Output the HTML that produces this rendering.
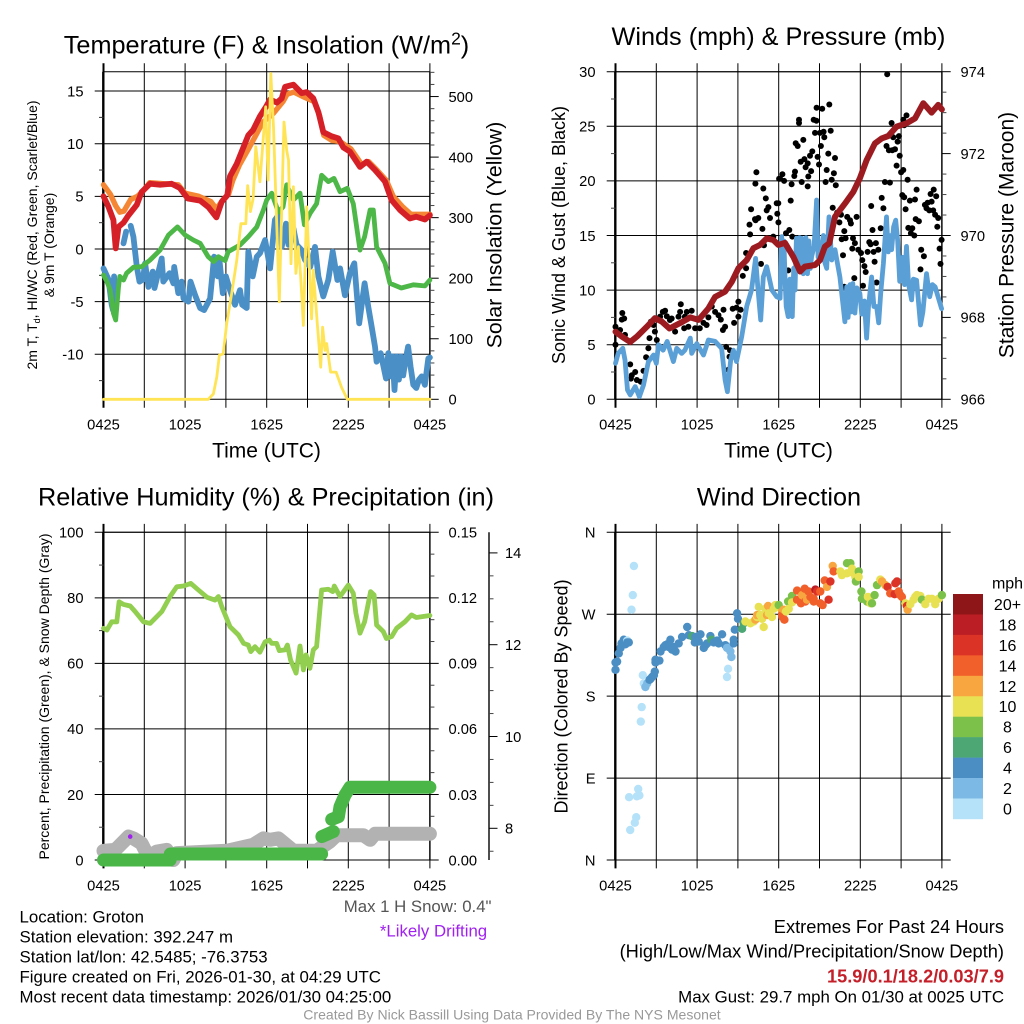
<!DOCTYPE html>
<html><head><meta charset="utf-8"><title>Groton Mesonet Meteogram</title>
<style>
html,body{margin:0;padding:0;background:#fff}
svg{display:block}
text{font-family:"Liberation Sans",Arial,sans-serif;fill:#000}
</style></head>
<body>
<svg id="fig" width="1024" height="1024" viewBox="0 0 1024 1024" xmlns="http://www.w3.org/2000/svg">
<rect width="1024" height="1024" fill="#fff"/>
<g id="p1"></g>
<g id="p2"></g>
<g id="p3"></g>
<g id="p4"></g>
<g id="legend"></g>

<text x="266.5" y="53.5" font-size="25.25" text-anchor="middle">Temperature (F) &amp; Insolation (W/m<tspan dy="-9" font-size="17.5">2</tspan><tspan dy="9">)</tspan></text>
<text x="778.5" y="45" font-size="25.25" text-anchor="middle">Winds (mph) &amp; Pressure (mb)</text>
<text x="266" y="505.5" font-size="25.25" text-anchor="middle">Relative Humidity (%) &amp; Precipitation (in)</text>
<text x="779" y="505.5" font-size="25.25" text-anchor="middle">Wind Direction</text>

<text x="266.5" y="457.5" font-size="21" text-anchor="middle">Time (UTC)</text>
<text x="778.5" y="457.5" font-size="21" text-anchor="middle">Time (UTC)</text>

<text transform="translate(37,235) rotate(-90)" font-size="14" text-anchor="middle">2m T, T<tspan dy="3" font-size="9">d</tspan><tspan dy="-3">, HI/WC (Red, Green, Scarlet/Blue)</tspan></text>
<text transform="translate(54,245) rotate(-90)" font-size="14" text-anchor="middle">&amp; 9m T (Orange)</text>
<text transform="translate(501.5,235) rotate(-90)" font-size="21.2" text-anchor="middle">Solar Insolation (Yellow)</text>
<text transform="translate(565,235) rotate(-90)" font-size="18" text-anchor="middle">Sonic Wind &amp; Gust (Blue, Black)</text>
<text transform="translate(1013.5,235) rotate(-90)" font-size="21" text-anchor="middle">Station Pressure (Maroon)</text>
<text transform="translate(49,696.5) rotate(-90)" font-size="14" text-anchor="middle">Percent, Precipitation (Green), &amp; Snow Depth (Gray)</text>
<text transform="translate(567.5,696.5) rotate(-90)" font-size="18" text-anchor="middle">Direction (Colored By Speed)</text>

<text x="1007.5" y="588.5" font-size="16" text-anchor="middle">mph</text>

<g font-size="16.85">
<text x="19.5" y="922.5">Location: Groton</text>
<text x="19.5" y="942.5">Station elevation: 392.247 m</text>
<text x="19.5" y="962.5">Station lat/lon: 42.5485; -76.3753</text>
<text x="19.5" y="982.5">Figure created on Fri, 2026-01-30, at 04:29 UTC</text>
<text x="19.5" y="1002.5">Most recent data timestamp: 2026/01/30 04:25:00</text>
</g>
<text x="491.5" y="912" font-size="16.8" text-anchor="end" style="fill:#555">Max 1 H Snow: 0.4"</text>
<text x="433.5" y="936.5" font-size="16.8" text-anchor="middle" style="fill:#A020F0">*Likely Drifting</text>
<text x="1004" y="933" font-size="18.25" text-anchor="end">Extremes For Past 24 Hours</text>
<text x="1004" y="957.5" font-size="18.25" text-anchor="end">(High/Low/Max Wind/Precipitation/Snow Depth)</text>
<text x="1004" y="982.5" font-size="18.2" font-weight="bold" text-anchor="end" style="fill:#C4202A">15.9/0.1/18.2/0.03/7.9</text>
<text x="1004" y="1002.5" font-size="16.85" text-anchor="end">Max Gust: 29.7 mph On 01/30 at 0025 UTC</text>
<text x="512" y="1019.5" font-size="14.05" text-anchor="middle" style="fill:#999">Created By Nick Bassill Using Data Provided By The NYS Mesonet</text>
</svg>

<script>
// ---- Shared axis data ----
const timeTickHours = [0,3,6,9,12,15,18,21,24];
const timeTickLabels = ["0425","","1025","","1625","","2225","","0425"];

// ---- Temperature panel (hours since 0425, deg F / W m-2) ----
const tempTicks = [15,10,5,0,-5,-10];
const tempMinorTicks = [12.5,7.5,2.5,-2.5,-7.5,-12.5];
const solarTicks = [0,100,200,300,400,500];
const redHours = [0,.37,.73,.9,1.1,1.47,1.84,2.45,2.8,3.43,4.16,5,5.6,6.2,7.1,7.7,8.3,8.7,9.1,9.3,9.8,10.3,10.65,11,11.5,11.95,12.25,12.75,13.1,13.35,13.96,14.57,14.94,15.43,15.8,16.16,16.78,17.27,17.63,18.12,18.86,19.35,19.96,20.7,21.18,21.8,22.53,23,23.63,24];
const redTemp = [5,4,2.75,.06,2.1,2.5,3.2,4.2,5.4,6.2,6.1,6.2,5.8,4.8,4.6,4,3,4.5,5.1,6.9,8.1,9.7,10.8,11.3,12.6,13.5,14.2,13.9,14.3,15.4,15.6,14.8,14.9,14.3,13,11.1,10.7,10.5,9.65,9.25,7.8,8.3,7.5,6.4,4.65,3.7,2.9,3.07,2.8,3.2];
const orangeHours = [0,.5,.9,1.2,1.5,2,2.5,2.9,3.4,5.5,6,7,7.9,8.3,8.8,9.2,9.5,10,10.7,11.2,11.7,12.5,13.2,13.5,14,14.8,15.5,15.9,16.2,16.8,17.4,18.2,19,19.5,20.1,20.8,21.3,22,22.6,23.2,24];
const orangeTemp = [6.1,5.2,4.1,3.5,3.6,4.7,5,5.5,6.3,6.1,5.3,5,4.5,3.8,4.7,5.2,6.5,8,9.6,10.8,12,12.9,14,14.7,14.9,14.4,14,12.6,10.8,10.3,10.2,9.5,8,8.3,7.5,6.5,5,4,3.3,3.3,3.3];
const greenHours = [0,.25,.5,.73,.9,1.1,1.2,1.47,1.7,2.2,2.8,3.43,4.16,4.78,5.44,6,6.6,7.1,7.7,8.1,8.45,8.94,9.18,10.04,10.65,11.27,11.76,12,12.37,12.86,13.2,13.47,13.96,14.45,14.77,15.2,15.67,16.04,16.53,16.95,17.39,17.93,18.37,18.86,19.2,19.6,19.84,20.08,20.7,21.06,21.9,22.78,23.63,24];
const greenTemp = [-2.47,-3.1,-3.9,-6.1,-6.74,-3.6,-2.6,-2.95,-2.3,-1.74,-1.68,-1.04,-.1,1.33,2.1,1.33,.85,.54,-.73,-1.2,-.73,-1.1,-.25,.38,1.17,2.1,3.7,4.65,5.3,3.5,4,6.1,4.65,5.3,2.3,3.4,4.3,7,6.4,6.7,5.44,5.76,4.3,-.1,1.17,3.7,3.7,.2,-1.36,-3.26,-3.7,-3.4,-3.5,-2.94];
const dewHours = [0,.37,.6,.7,.78,.9,1.0,1.47,1.66,1.8,2,2.2,2.45,2.65,2.9,3.06,3.3,3.62,3.75,4.28,4.4,4.85,5.14,5.2,5.5,5.75,5.88,6.25,6.4,6.74,7.1,7.4,7.84,8.13,8.4,8.52,8.77,9,9.3,9.67,10.04,10.2,10.53,10.65,10.97,11.27,11.51,11.88,12.25,12.6,12.86,13.1,13.42,13.6,13.96,14.2,14.57,14.8,15.2,15.55,15.8,16.16,16.53,16.85,17.2,17.4,17.75,18.12,18.44,18.8,19.2,19.47,19.72,19.96,20.08,20.38,20.77,20.94,21.11,21.26,21.4,21.55,21.72,21.87,22.04,22.21,22.4,22.58,22.78,23,23.2,23.4,23.63,23.88,24];
const dewTemp = [-1.84,-2.9,-5.3,-5.8,-2.6,-4.8,null,.54,1.65,null,2.2,1.17,-1.68,-3.1,-2.9,-1.36,-3.6,-2.15,-3.7,-.9,-3.1,-2.3,-3.26,-1.7,-4.2,-3.1,-4.7,-5,-3.1,-4.4,-5.6,-5.8,-4.7,-.73,-2.6,-1,-4.2,-2.6,-3.9,-5.3,-3.9,-5.3,-5.6,-.25,-2.6,-.73,-.4,.85,-1.84,2.75,3.2,.2,2.4,.4,1.96,.4,-.1,-1,-1.7,.2,-2.6,-4.5,-2.94,-.25,-2.94,-1.84,-4.4,-2.3,-1.36,-7.06,-3.26,-5.5,-7.4,-9.27,-10.7,-9.9,-12.3,-9.9,-12.1,-10.2,-13.4,-10.2,-12.4,-10.2,-12,-10.5,-9.27,-11.2,-12.9,-13.2,-12.4,-12.1,-12.9,-10.4,-10.3];
const solarHours = [0,7.7,8.08,8.33,8.52,8.8,9.06,9.43,9.8,10.1,10.46,10.6,10.8,11,11.2,11.5,11.93,12.1,12.3,12.5,12.93,13.27,13.47,13.6,13.79,13.96,14.15,14.33,14.5,14.7,14.94,15.3,15.43,15.72,15.97,16.11,16.29,16.41,16.7,17.1,17.5,17.93,24];
const solarWatts = [0,0,9,37,73,75,125,175,230,290,290,353,310,331,417,359,483,362,538,450,161,458,411,395,224,351,208,252,202,122,318,133,213,125,53,119,81,92,45,45,20,0,0];

// ---- Winds panel (mph, mb) ----
const windTicks = [0,5,10,15,20,25,30];
const windMinorTicks = [2.5,7.5,12.5,17.5,22.5,27.5];
const pressureTicks = [966,968,970,972,974];
const sustainedHours = [0,.2,.54,.7,.88,1.08,1.45,1.76,2.06,2.42,2.8,3,3.16,3.5,3.8,4.26,4.5,4.87,5.1,5.5,5.6,5.98,6.47,6.83,7.32,7.8,8.06,8.23,8.47,8.67,8.9,9.28,9.65,10,10.3,10.46,10.68,10.87,11.12,11.5,11.85,12.1,12.22,12.3,12.38,12.46,12.55,12.7,12.82,12.9,13,13.1,13.2,13.3,13.42,13.52,13.62,13.7,13.8,13.93,14,14.12,14.22,14.32,14.42,14.6,14.79,14.9,15.04,15.28,15.4,15.53,15.7,15.9,16.14,16.5,16.87,17,17.1,17.25,17.35,17.45,17.6,17.75,17.97,18.1,18.3,18.46,18.6,18.83,19,19.2,19.35,19.5,19.7,19.93,20.05,20.15,20.3,20.45,20.6,20.75,20.9,21.1,21.25,21.4,21.55,21.77,21.9,22.14,22.43,22.6,22.87,23.1,23.3,23.5,23.98];
const sustainedMph = [3.3,4.2,4.67,3.6,.85,.4,1.16,.24,1.3,3.45,4.06,3.3,5,4.5,5.3,3.45,4.67,4.2,4.5,5.6,4.2,5.1,4.06,5.43,5.3,4.67,1.77,.7,3.6,4.5,3.45,5.74,8.5,10,12.9,10.3,7.26,11.2,12.15,10,9.4,9.25,14.9,11,14.5,11.2,8.5,7.57,11,8,7.57,12,10,14.74,12.5,14.8,12.5,14.74,11.5,12.45,14.8,11.5,14.5,12,13.06,14,18.25,13,13,15,12.5,12,16.7,12.76,13.7,11.2,7.1,10.3,7.5,10.5,8,10.6,7.9,10.2,9.7,7.8,9,5.6,8.5,11.2,8.5,8.5,7,9.7,12.45,16.7,13.5,15,13.7,15.8,16.4,14.5,10.8,13,10.5,14,10.5,9.1,11,10.9,6.8,8,11.5,9.4,10.5,10.3,8.3];
const pressureHours = [0,.47,1.08,1.57,2.3,2.9,3.4,3.97,4.75,5.5,6.1,6.83,7.32,8.06,8.55,9.04,9.65,10.14,10.63,11.12,11.6,11.98,12.46,13.07,13.57,13.93,14.67,15.04,15.4,15.72,16.14,16.87,17.49,17.97,18.46,19.07,19.57,20.06,20.67,21.4,22.02,22.63,23.24,23.73,24];
const pressureMb = [967.65,967.53,967.4,967.53,967.77,967.98,967.9,967.73,967.86,968,967.94,968.22,968.5,968.63,968.87,969.2,969.4,969.69,969.77,969.93,969.89,969.77,969.82,969.48,969.12,969.24,969.28,969.4,969.73,969.81,970.46,970.78,971.07,971.4,971.84,972.25,972.37,972.43,972.66,972.74,972.86,973.23,973,973.19,973.08];
const gustHours = [0,0,.34,.5,.46,.64,.7,1.08,1.2,1.45,1.13,1.57,1.86,2.06,2.25,2.42,2.5,3.04,2.9,2.6,2.8,3.28,3.48,3.65,3.77,4,4.13,4.38,4.63,4.8,4.75,5.1,5.24,5.6,5.36,5.05,5.85,6.2,6.47,6.7,6.83,7.08,7.32,7.57,7.74,7.94,8.06,7.9,8.13,8.42,8.38,8.3,8.62,8.9,9.04,9.2,8.72,9.04,9.36,9.6,9.6,9.85,9.9,9.97,10.3,10.36,10.29,10.87,11.05,11.24,11.12,11.85,11.36,11.9,11.98,10.26,10.5,10.8,10.7,10.92,11.6,12.03,11.97,12.88,12.78,12.54,13,12.1,12.27,12.4,12.95,13.15,13.2,13.49,13.49,13.81,13.25,13.4,13.69,14.18,14.13,14.38,13.62,13.89,13.98,14.13,14.3,14.47,14.57,14.77,14.67,14.79,15.2,15.72,15.3,15.04,15.82,15.35,15.1,14.86,14.96,15.65,16.14,15.53,16.06,15.9,15.45,16.2,15.97,16.3,16.58,16.46,17.04,17.24,17.31,17.73,16.82,16.63,16.92,17.46,17.41,16.73,17.6,17.85,18.05,18.66,18.76,19.15,18.54,18.98,19.32,18.15,18.3,18.4,19.05,17.56,18.2,16.82,19.2,18.4,12.7,18.8,18.9,19.5,19.57,19.7,19.98,20.3,21.16,21.4,21.23,20.42,20.84,20.74,19.93,20.1,20.35,20.55,20.9,20.67,21.16,21,19.81,20.18,21.48,22.14,21.09,21.23,21.33,21.65,22.02,23.4,23.17,23.58,22.75,22.95,23.24,22.87,23.07,23.36,23.5,23.73,23.66,22.07,22.31,21.53,21.82,21.72,21.97,23.98,23.83,22.48,22.68,22.43,23.9];
const gustMph = [5,6.65,6.35,7.9,7.3,7.4,5.9,3.2,2.2,2.5,1.9,1.77,1.6,2.6,3.85,4.67,5.6,5.43,6.2,7.1,6.8,7.57,8,8.1,7.6,7.26,7.4,6.2,7.57,8.7,8,7.57,8,8.1,6.65,6.5,6.5,6.5,7,6.8,7.5,8.5,8,7.7,7.3,8.2,6.65,6.35,4.8,4.5,3.9,2.7,8.3,8.4,8.95,8.2,7,7.57,11.3,12,13.4,16,15.1,17.4,16.4,20.8,19.75,19.3,18.4,17.6,17.3,17.95,16.6,17,16.2,16.5,16.6,15.6,12.4,14.1,14.9,20.2,17.95,18.2,15.5,15.2,14.9,20.2,20.6,20,19.7,20.45,20.85,25.3,25.6,23.75,23.45,23.2,19.9,20.4,19.5,20.9,21.75,22,21.25,21.6,22.3,22.7,25.6,25.5,24.4,26.7,26.6,27,24.5,24.4,24.6,24,23.2,22.2,21.5,22.5,22.1,21,20.7,20.1,19.9,19.6,17.55,17.1,16.9,16.2,16.7,16.4,16.1,16.7,15.4,14.65,14.75,14.75,13.8,13.2,14.3,13.7,13.4,14.4,14.2,14.3,13.5,13.5,13.7,12.75,12.2,11.66,12.6,11.1,10.4,10.3,10.7,8.6,11.8,17.7,15.5,15.66,18.44,17.5,29.76,25.3,25.6,26,25.1,24,24.1,23.6,23.2,22.8,22.8,22.9,22.3,21.4,21,20.8,19.9,19.84,20.1,19.2,18.7,18.5,17.4,18.2,18.3,19.2,18.8,18.6,17.8,18,18.1,17.5,17.3,17.3,16.9,16.6,15.8,16.5,16.3,15.7,15.66,15.2,15,14.6,13.8,13.7,13.1,11.9,12.4];

// ---- Humidity panel (%, inches, snow depth) ----
const humidityTicks = [0,20,40,60,80,100];
const humidityMinorTicks = [10,30,50,70,90];
const precipTicks = ["0.00","0.03","0.06","0.09","0.12","0.15"];
const snowTicks = [8,10,12,14];
const rhHours = [0,.25,.6,.98,1.15,1.47,1.96,2.33,2.94,3.43,4.29,4.9,5.39,5.88,6.42,6.98,7.6,8.2,8.45,8.7,9.3,9.92,10.3,10.65,10.83,11.14,11.5,11.88,12.2,12.37,12.73,12.93,13.35,13.52,13.76,14.16,14.45,14.7,14.9,15.18,15.43,15.67,16.04,16.53,16.85,16.97,17.39,18,18.37,18.56,18.86,19.2,19.64,19.9,20.08,20.57,20.8,21.19,21.55,22.16,22.65,23,24];
const rhPercent = [70.7,70.2,72.7,72.7,78.8,78,77.5,75.8,72.7,72.2,75.8,80.4,83.4,83.6,84.4,82.4,80.2,79.3,80.4,77.3,71.2,68.7,66.1,65.6,63.6,65.1,63.4,66.6,67.1,66.1,66.1,63.9,64.1,65.6,61,57,65.3,58,62.6,58.5,64.1,65.1,82.4,82.6,81.9,83.6,80.4,83.9,81.4,75.3,69.2,72.7,81.9,80.9,71.7,69.7,67.6,68.2,70.7,72.7,74.8,74,74.6];
const snowHours = [0,.85,1.1,1.84,2.2,2.8,3.3,3.9,4.65,5.14,5.4,9.06,11,11.75,12.25,12.86,13.96,15.67,16.65,17.14,19.1,19.6,19.96,24];
const snowDepth = [7.51,7.53,7.6,7.82,7.78,7.67,7.38,7.49,7.53,7.31,7.46,7.51,7.64,7.78,7.75,7.78,7.51,7.51,7.71,7.85,7.85,7.75,7.88,7.88];
const driftHours = [1.96];
const driftDepth = [7.82];
const precipHours = [0,4.9,4.91,16.04,16.05,16.06,16.9,16.91,16.78,17.27,17.39,17.76,18.12,24];
const precipInches = [0,0,.00275,.00275,null,.0107,.013,null,.0186,.0198,.0244,.0297,.0333,.0333];

// ---- Wind direction panel ----
const compassLabels = ["N","E","S","W","N"];
const dirHours = [1.35,1.27,1.18,2.01,2.08,1.93,1.86,1.67,1,1.57,1.76,1.52,1.42,1.08,8.28,8.2,.86,2.2,2.33,8.33,8.45,8.52,8.2,0,0,.12,.24,.37,.44,.61,.86,.73,.98,2.57,2.82,2.89,2.94,3.23,2.94,3.31,3.55,3.8,4.04,4.16,4.41,4.65,4.9,5.27,5.39,5.83,6.25,6.49,6.61,6.98,7.22,7.47,7.84,8.08,8.69,8.77,8.94,9.01,8.69,3.67,4.29,6.12,7.59,5.88,3.92,6.74,2.5,2.69,5.63,7.05,9.31,9.43,9.92,10.16,10.53,10.41,10.9,10.78,11.27,11.51,11.76,12,11.63,11.02,12.74,12.54,9.55,10.65,10.41,10.29,11.22,11.14,12.25,12.37,14.08,15.55,15.97,19.6,19.84,21.48,13.72,12.25,12.42,12.29,13.35,13.91,14.2,14.33,14.57,14.57,13.35,13.64,15.06,15.23,15.06,16.04,15.38,13.96,20.2,20.82,20.94,21.06,12,12.69,12.98,17.02,17.27,17.88,17.68,18.08,18.12,18.49,18.86,19.05,19.23,24,22.53,12.98,16.53,16.65,17.02,17.39,17.51,17.63,17.88,18.74,18.56,18.74,19.47,21.31,21.68,21.92,22.16,22.41,22.78,23.02,23.27,23.51,23.76,22.04,14.82,15.67,15.8,20.01,20.7,20.52,20.57,21.43,14.7];
const dirDegrees = [323,291,275,203,194,168,152,78,69,70,71,47,41,33,210,201,241,190,194,233,229,223,233,217,209,218,227,233,238,242,239,237,239,199,203,207,217,219,220,229,234,237,242,231,229,238,245,256,247,239,248,233,236,246,239,241,248,236,242,253,271,265,238,236,234,240,238,245,234,238,198,201,246,242,254,260,260,262,278,267,256,265,271,267,280,278,276,276,276,273,262,269,269,264,279,269,273,275,286,300,323,306,302,275,291,269,264,267,296,298,295,289,287,284,286,282,282,280,295,317,307,284,293,295,291,289,280,284,290,326,326,317,306,295,287,284,282,291,302,291,286,283,317,313,315,320,315,311,311,287,289,282,308,282,281,286,291,290,281,287,287,281,287,289,295,286,306,300,306,292,304,279,297];
const dirSpeeds = [1,1,1,1,1,1,1,1,1,1,1,1,1,1,1,1,1,3,3,3,3,3,3,4.5,4.5,4.5,4.5,4.5,4.5,4.5,4.5,4.5,4.5,4.5,4.5,4.5,4.5,4.5,4.5,4.5,4.5,4.5,4.5,4.5,4.5,4.5,4.5,4.5,4.5,4.5,4.5,4.5,4.5,4.5,4.5,4.5,4.5,4.5,4.5,4.5,4.5,4.5,4.5,4.5,4.5,4.5,4.5,4.5,4.5,4.5,4.5,4.5,7,7,7,7,10.5,10.5,10.5,10.5,10.5,10.5,10.5,10.5,10.5,10.5,10.5,10.5,10.5,10.5,10.5,10.5,12.5,12.5,12.5,12.5,12.5,12.5,12.5,12.5,12.5,12.5,12.5,12.5,12.5,14.5,14.5,14.5,14.5,14.5,14.5,14.5,14.5,14.5,14.5,14.5,14.5,14.5,14.5,14.5,14.5,14.5,14.5,14.5,14.5,14.5,8.5,8.5,8.5,8.5,8.5,8.5,8.5,8.5,8.5,8.5,8.5,8.5,8.5,8.5,8.5,10.5,10.5,10.5,10.5,10.5,10.5,10.5,10.5,10.5,10.5,10.5,10.5,10.5,10.5,10.5,10.5,10.5,10.5,10.5,10.5,10.5,10.5,10.5,16.5,16.5,16.5,16.5,16.5,16.5,16.5,16.5,18];
const legendLabels = ["20+","18","16","14","12","10","8","6","4","2","0"];

// ---- Palette ----
const speedPalette = ["#b5e2f9","#7db9e5","#4a8ec4","#4ca774","#7cc24a","#e8e153","#f8a63f","#f15f2b","#dc3327","#bb1e25","#8e1518"];

// ---- Axis functions ----
const STEP = 13.6;
const xA = h => 103.5 + h * STEP;
const xB = h => 615.5 + h * STEP;
const TOP1 = 71.7, BOT1 = 399.3, TOP3 = 532.3, BOT3 = 860;
const tempY = v => 249 - v * 10.53;
const solarY = v => BOT1 - v * 0.6055;
const windY = v => BOT1 - v * (BOT1 - TOP1) / 30;
const pressY = v => BOT1 - (v - 966) * (BOT1 - TOP1) / 8;
const rhY = v => BOT3 - v * (BOT3 - TOP3) / 100;
const precipY = v => BOT3 - v * (BOT3 - TOP3) / 0.15;
const snowY = v => 828.3 - (v - 8) * 45.9;
const dirY = v => BOT3 - v * (BOT3 - TOP3) / 360;

const NS = "http://www.w3.org/2000/svg";
function rule(parent, name, x1, y1, x2, y2, w, color) {
  const el = document.createElementNS(NS, "line");
  
  
  el.setAttribute("x1", x1); el.setAttribute("y1", y1);
  el.setAttribute("x2", x2); el.setAttribute("y2", y2);
  el.setAttribute("stroke", color || "#000");
  el.setAttribute("stroke-width", w);
  parent.appendChild(el);
}
function label(parent, name, txt, x, y, anchor, size) {
  const el = document.createElementNS(NS, "text");
  
  
  el.setAttribute("x", x);
  el.setAttribute("y", y + size * 0.36);
  el.setAttribute("text-anchor", anchor);
  el.setAttribute("font-size", size);
  el.textContent = txt;
  parent.appendChild(el);
}
function series(parent, name, hours, values, xf, yf, color, width) {
  let d = "", pen = false;
  hours.forEach((h, i) => {
    if (values[i] === null) { pen = false; return; }
    d += (pen ? "L" : "M") + xf(h).toFixed(1) + " " + yf(values[i]).toFixed(1);
    pen = true;
  });
  const el = document.createElementNS(NS, "path");
  
  
  el.setAttribute("d", d);
  el.setAttribute("fill", "none");
  el.setAttribute("stroke", color);
  el.setAttribute("stroke-width", width);
  el.setAttribute("stroke-linejoin", "round");
  el.setAttribute("stroke-linecap", "round");
  parent.appendChild(el);
}
function dot(parent, name, cx, cy, r, color) {
  const el = document.createElementNS(NS, "circle");
  
  
  el.setAttribute("cx", cx.toFixed(1));
  el.setAttribute("cy", cy.toFixed(1));
  el.setAttribute("r", r);
  el.setAttribute("fill", color);
  parent.appendChild(el);
}
function frame(g, xf, top, bot, prefix) {
  const x0 = xf(0), x1 = xf(24);
  timeTickHours.forEach((h, i) => {
    const edge = (i === 0);
    rule(g, prefix + "-time-gridline", xf(h), top - 8.4, xf(h), bot + 8.4, edge ? 2 : 1);
    if (timeTickLabels[i]) label(g, prefix + "-time-tick-label", timeTickLabels[i], xf(h), bot + 25, "middle", 14.7);
  });
  rule(g, prefix + "-left-spine", x0 - 0.7, top, x0 - 0.7, bot, 1.4);
  rule(g, prefix + "-right-spine", x1, top, x1, bot, 1.4);
  rule(g, prefix + "-top-spine", x0, top, x1, top, 1);
  rule(g, prefix + "-bottom-spine", x0, bot, x1, bot, 1);
}

// ---- Panel 1 ----
const p1 = document.getElementById("p1");
frame(p1, xA, TOP1, BOT1, "temperature");
tempTicks.forEach(v => {
  rule(p1, "temperature-gridline", xA(0) - 8.8, tempY(v), xA(24), tempY(v), 1);
  label(p1, "temperature-tick-label", String(v), 83.5, tempY(v), "end", 14.7);
});
tempMinorTicks.forEach(v => rule(p1, "temperature-minor-tick", xA(0) - 4.5, tempY(v), xA(0), tempY(v), 1, "#333"));
solarTicks.forEach(v => {
  rule(p1, "insolation-tick", xA(24), solarY(v), xA(24) + 8.8, solarY(v), 1);
  label(p1, "insolation-tick-label", String(v), 448.5, solarY(v), "start", 14.7);
});
for (let v = 20; v <= 540; v += 20) {
  if (v % 100) rule(p1, "insolation-minor-tick", xA(24), solarY(v), xA(24) + 4.5, solarY(v), 1, "#444");
}
series(p1, "dew-point-line", dewHours, dewTemp, xA, tempY, "#4B8FC7", 5.8);
series(p1, "wind-chill-line", greenHours, greenTemp, xA, tempY, "#4DB748", 4.8);
series(p1, "nine-meter-temperature-line", orangeHours, orangeTemp, xA, tempY, "#F58634", 5.4);
series(p1, "two-meter-temperature-line", redHours, redTemp, xA, tempY, "#D62027", 5.8);
series(p1, "solar-insolation-line", solarHours, solarWatts, xA, solarY, "#FFE455", 2.8);

// ---- Panel 2 ----
const p2 = document.getElementById("p2");
frame(p2, xB, TOP1, BOT1, "winds");
windTicks.forEach(v => {
  rule(p2, "wind-gridline", xB(0) - 8.8, windY(v), xB(24), windY(v), 1);
  label(p2, "wind-tick-label", String(v), 595.5, windY(v), "end", 14.7);
});
windMinorTicks.forEach(v => rule(p2, "wind-minor-tick", xB(0) - 4.5, windY(v), xB(0), windY(v), 1, "#444"));
pressureTicks.forEach(v => {
  rule(p2, "pressure-tick", xB(24), pressY(v), xB(24) + 8.8, pressY(v), 1);
  label(p2, "pressure-tick-label", String(v), 960.5, pressY(v), "start", 14.7);
});
for (let v = 966.5; v < 974; v += 0.5) {
  if (v % 2) rule(p2, "pressure-minor-tick", xB(24), pressY(v), xB(24) + 4.5, pressY(v), 1, "#444");
}
gustHours.forEach((h, i) => dot(p2, "gust-point", xB(h), windY(gustMph[i]), 3, "#000"));
series(p2, "sonic-wind-line", sustainedHours, sustainedMph, xB, windY, "#5A9FD6", 4.8);
series(p2, "pressure-line", pressureHours, pressureMb, xB, pressY, "#9C1B20", 6);

// ---- Panel 3 ----
const p3 = document.getElementById("p3");
frame(p3, xA, TOP3, BOT3, "humidity");
humidityTicks.forEach(v => {
  rule(p3, "humidity-gridline", xA(0) - 8.8, rhY(v), xA(24) + 8.8, rhY(v), 1);
  label(p3, "humidity-tick-label", String(v), 83.5, rhY(v), "end", 14.7);
});
humidityMinorTicks.forEach(v => rule(p3, "humidity-minor-tick", xA(0) - 4.5, rhY(v), xA(0), rhY(v), 1, "#444"));
precipTicks.forEach(t => label(p3, "precipitation-tick-label", t, 448.5, precipY(parseFloat(t)), "start", 14.7));
for (let k = 1; k < 15; k++) {
  if (k % 3) rule(p3, "precipitation-minor-tick", xA(24), precipY(k / 100), xA(24) + 4.5, precipY(k / 100), 1, "#444");
}
rule(p3, "snow-axis-line", 489, TOP3, 489, BOT3, 1.6, "#222");
snowTicks.forEach(v => {
  rule(p3, "snow-tick", 489, snowY(v), 497.5, snowY(v), 1);
  label(p3, "snow-tick-label", String(v), 505, snowY(v), "start", 14.7);
});
for (let v = 7.5; v < 14.5; v += 0.5) {
  if (v % 2) rule(p3, "snow-minor-tick", 489, snowY(v), 493.5, snowY(v), 1, "#444");
}
series(p3, "humidity-line", rhHours, rhPercent, xA, rhY, "#92CE4F", 4.8);
series(p3, "snow-depth-line", snowHours, snowDepth, xA, snowY, "#B2B2B2", 14);
driftHours.forEach((h, i) => dot(p3, "drifting-snow-point", xA(h), snowY(driftDepth[i]), 2.3, "#A020F0"));
series(p3, "precipitation-line", precipHours, precipInches, xA, precipY, "#4AB648", 13);

// ---- Panel 4 ----
const p4 = document.getElementById("p4");
frame(p4, xB, TOP3, BOT3, "direction");
compassLabels.forEach((t, i) => {
  const deg = i * 90;
  rule(p4, "direction-gridline", xB(0) - 8.8, dirY(deg), xB(24) + 8.8, dirY(deg), 1);
  label(p4, "direction-tick-label", t, 595.5, dirY(deg), "end", 14.7);
});
const speedIndex = s => Math.min(10, Math.floor(s / 2));
const order = dirHours.map((h, i) => i).sort((a, b) => dirHours[a] - dirHours[b]);
order.forEach(i => dot(p4, "wind-direction-point", xB(dirHours[i]), dirY(dirDegrees[i]), 4.2, speedPalette[speedIndex(dirSpeeds[i])]));

// ---- Legend ----
const legend = document.getElementById("legend");
legendLabels.forEach((t, i) => {
  const top = 594 + i * 20.45;
  const box = document.createElementNS(NS, "rect");
  
  
  box.setAttribute("x", 953);
  box.setAttribute("y", top);
  box.setAttribute("width", 30);
  box.setAttribute("height", 20.7);
  box.setAttribute("fill", speedPalette[10 - i]);
  legend.appendChild(box);
  label(legend, "legend-label", t, 1007.5, top + 10.2, "middle", 16);
});
</script>
</body></html>
